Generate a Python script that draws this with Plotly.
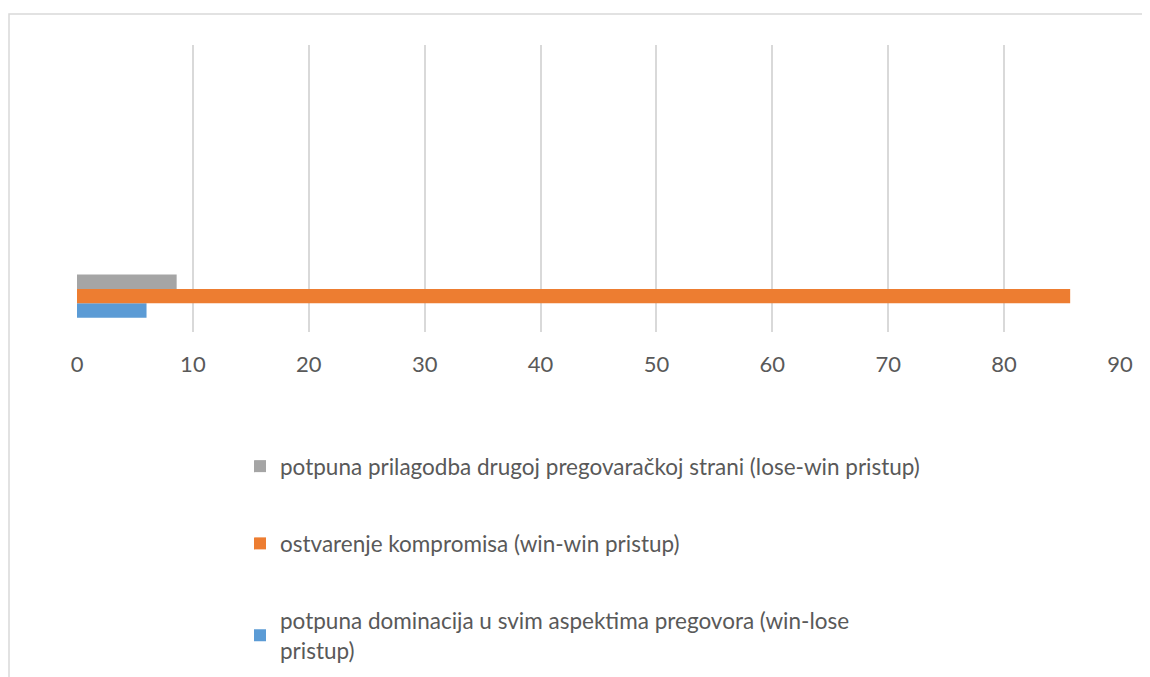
import plotly.graph_objects as go

series_names = [
    "potpuna dominacija u svim aspektima pregovora (win-lose<br>pristup)",
    "ostvarenje kompromisa (win-win pristup)",
    "potpuna prilagodba drugoj pregovaračkoj strani (lose-win pristup)",
]
series_values = [6.0, 85.7, 8.6]
series_colors = ["#5B9BD5", "#ED7D31", "#A5A5A5"]
legend_ranks = [3, 2, 1]
category = [0]
x_ticks = [0, 10, 20, 30, 40, 50, 60, 70, 80, 90]

# page body has an 8px margin; work in screen pixels and subtract it
OFF = 8
W, H = 1150 - OFF, 677 - OFF
L = 77 - OFF
R = W - (1120 - OFF)
T = 45 - OFF
B = H - (332 - OFF)
PW, PH = W - L - R, H - T - B


def px_x(sx):
    return (sx - OFF - L) / PW


def px_y(sy):
    return (H - B - (sy - OFF)) / PH


fig = go.Figure()
for n, v, c, rk in zip(series_names, series_values, series_colors, legend_ranks):
    fig.add_trace(go.Bar(
        y=category, x=[v], orientation="h", name=n,
        marker=dict(color=c, line=dict(width=0)),
        legendgroup=f"g{rk}", legendrank=rk, hoverinfo="x+name",
    ))

fig.update_layout(
    width=W, height=H,
    margin=dict(l=L, r=R, t=T, b=B, pad=0, autoexpand=False),
    paper_bgcolor="white", plot_bgcolor="white",
    barmode="group", bargap=0.4, bargroupgap=0,
    font=dict(family="Lato, 'Open Sans', sans-serif", color="#595959", size=22),
    xaxis=dict(range=[0, 90], tickvals=x_ticks, showgrid=True, gridcolor="#D9D9D9",
               gridwidth=1.5, zeroline=False, showline=False, ticks="",
               ticklabelstandoff=17, tickfont=dict(size=22, color="#595959"), fixedrange=True),
    yaxis=dict(range=[-0.5, 3.5], visible=False, fixedrange=True),
    showlegend=True,
    legend=dict(orientation="v", x=px_x(240), xanchor="left",
                y=px_y(445), yanchor="top",
                traceorder="grouped", tracegroupgap=45,
                font=dict(size=22.5, color="#595959"), bgcolor="rgba(0,0,0,0)",
                itemwidth=30),
    shapes=[dict(type="rect", xref="paper", yref="paper",
                 x0=px_x(9), x1=px_x(1170),
                 y0=px_y(700), y1=px_y(14),
                 line=dict(color="#D9D9D9", width=1.5), fillcolor="rgba(0,0,0,0)",
                 layer="below")],
)

fig.write_html("out.html")
